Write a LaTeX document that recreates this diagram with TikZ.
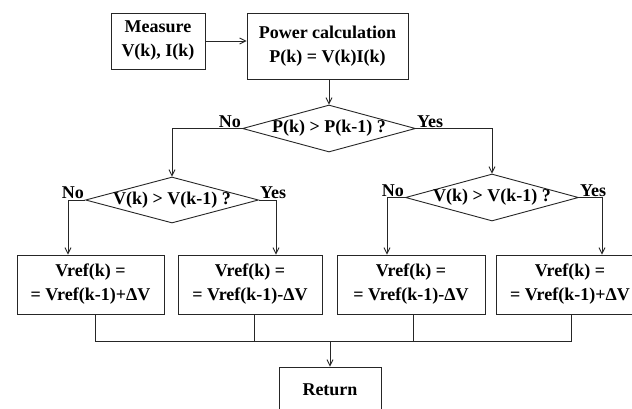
\documentclass[tikz,border=0pt]{standalone}
\usepackage{fontspec}
\setmainfont{Liberation Serif}
\usetikzlibrary{shapes.geometric,arrows.meta,calc}
\begin{document}
\begin{tikzpicture}[x=1pt,y=-1pt,
  every node/.style={font=\fontsize{18}{24}\selectfont\bfseries, text=black},
  box/.style={draw=black!85, line width=0.9pt, rectangle, inner sep=0pt, align=center},
  dia/.style={draw=black!85, line width=0.9pt, diamond, inner sep=0pt, aspect=3.7},
  lbl/.style={inner sep=1pt},
  conn/.style={draw=black!85, line width=0.9pt},
  arr/.style={conn, -{Straight Barb[length=6pt,width=6pt]}}
]
\useasboundingbox (0,0) rectangle (632,408);
\clip (0,0) rectangle (632,408);
\fill[white] (0,0) rectangle (632,408);

\node[box, minimum width=94pt, minimum height=56pt] (meas) at (158,41) {Measure\\V(k), I(k)};
\node[box, minimum width=161pt, minimum height=66pt] (pow) at (327.5,46) {Power calculation\\P(k) = V(k)I(k)};

\node[dia, minimum width=173pt, minimum height=47pt] (d1) at (329,128.5) {\makebox[0pt]{P(k) > P(k-1) ?}};
\node[dia, minimum width=173pt, minimum height=46pt] (d2) at (172,200) {\makebox[0pt]{V(k) > V(k-1) ?}};
\node[dia, minimum width=173pt, minimum height=47pt] (d3) at (492,197.5) {\makebox[0pt]{V(k) > V(k-1) ?}};

\node[box, minimum width=147pt, minimum height=59pt] (b1) at (90.5,284.5) {Vref(k) =\\= Vref(k-1)+ΔV};
\node[box, minimum width=144pt, minimum height=59pt] (b2) at (250,284.5) {Vref(k) =\\= Vref(k-1)-ΔV};
\node[box, minimum width=148pt, minimum height=59pt] (b3) at (411,284.5) {Vref(k) =\\= Vref(k-1)-ΔV};
\node[box, minimum width=148pt, minimum height=59pt] (b4) at (570,284.5) {Vref(k) =\\= Vref(k-1)+ΔV};

\node[box, minimum width=102pt, minimum height=46pt] (ret) at (330,390) {Return};

\node[lbl, anchor=south east] (n1) at (d1.west) {No};
\node[lbl, anchor=south west] (y1) at (d1.east) {Yes};
\node[lbl, anchor=south east] (n2) at (d2.west) {No};
\node[lbl, anchor=south west] (y2) at (d2.east) {Yes};
\node[lbl, anchor=south east] (n3) at (d3.west) {No};
\node[lbl, anchor=south west] (y3) at (d3.east) {Yes};

\coordinate (j) at (330,341);

\draw[arr] (meas.east) -- (meas.east -| pow.west);
\draw[arr] (d1.north |- pow.south) -- (d1.north);
\draw[arr] (d1.west) -| (d2.north);
\draw[arr] (d1.east) -| (d3.north);
\draw[arr] (d2.west) -| ([xshift=-22.5pt]b1.north);
\draw[arr] (d2.east) -| ([xshift=26pt]b2.north);
\draw[arr] (d3.west) -| ([xshift=-24pt]b3.north);
\draw[arr] (d3.east) -| ([xshift=32pt]b4.north);
\draw[conn] ([xshift=4.5pt]b1.south) |- (j);
\draw[conn] ([xshift=4pt]b2.south) |- (j);
\draw[conn] ([xshift=2pt]b3.south) |- (j);
\draw[conn] ([xshift=1pt]b4.south) |- (j);
\draw[arr] (j) -- (ret.north);
\end{tikzpicture}
\end{document}
